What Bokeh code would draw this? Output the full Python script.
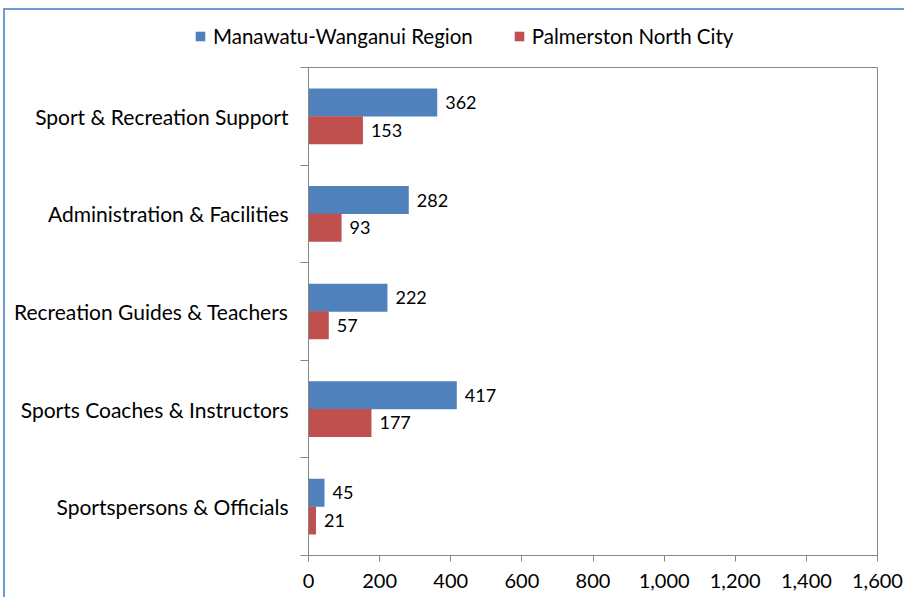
from bokeh.plotting import figure
from bokeh.layouts import column, row
from bokeh.models import FixedTicker, Range1d, NumeralTickFormatter, Legend, LegendItem
from bokeh.embed import file_html
from bokeh.resources import INLINE
from bokeh.core.properties import value

categories = [
    "Sport & Recreation Support",
    "Administration & Facilities",
    "Recreation Guides & Teachers",
    "Sports Coaches & Instructors",
    "Sportspersons & Officials",
]
region = [362, 282, 222, 417, 45]
city = [153, 93, 57, 177, 21]
series_names = ["Manawatu-Wanganui Region", "Palmerston North City"]
x_ticks = [0, 200, 400, 600, 800, 1000, 1200, 1400, 1600]

FONT = "Lato"
BLUE = "#4F81BD"
RED = "#C0504D"
GREY = "#868686"

n = len(categories)
centers = [n - i - 0.5 for i in range(n)]
bar_h = 0.287
off = 0.142
y_region = [c + off for c in centers]
y_city = [c - off for c in centers]

# ---- legend strip (its own small figure; series drawn out of view, only the legend shows) ----
lg = figure(width=899, height=50, x_range=Range1d(-100, -50), y_range=Range1d(-10, -9),
            x_axis_type=None, y_axis_type=None, min_border=0,
            output_backend="svg", toolbar_location=None)
lg.outline_line_color = None
lg.xgrid.visible = False
lg.ygrid.visible = False
lr1 = lg.hbar(y=y_region, left=0, right=region, height=bar_h, fill_color=BLUE, line_color=None)
lr2 = lg.hbar(y=y_city, left=0, right=city, height=bar_h, fill_color=RED, line_color=None)
legend = Legend(items=[LegendItem(label=series_names[0], renderers=[lr1]),
                       LegendItem(label=series_names[1], renderers=[lr2])],
                orientation="horizontal", location=(189, 12),
                glyph_width=12, glyph_height=12, label_standoff=7, spacing=40,
                padding=0, margin=0, border_line_color=None, background_fill_alpha=0,
                label_text_font=FONT, label_text_font_size="20.5px", label_text_color="black")
lg.add_layout(legend)

# ---- main chart ----
p = figure(width=899, height=537,
           min_border_left=303, min_border_right=27, min_border_top=7, min_border_bottom=42,
           x_range=Range1d(0, 1600), y_range=Range1d(0, n),
           output_backend="svg", toolbar_location=None)

p.hbar(y=y_region, left=0, right=region, height=bar_h, fill_color=BLUE, line_color=None)
p.hbar(y=y_city, left=0, right=city, height=bar_h, fill_color=RED, line_color=None)

p.text(x=region, y=y_region, text=[str(v) for v in region], x_offset=8,
       text_baseline="middle", text_font=value(FONT), text_font_size="18px", text_color="black")
p.text(x=city, y=y_city, text=[str(v) for v in city], x_offset=8,
       text_baseline="middle", text_font=value(FONT), text_font_size="18px", text_color="black")

p.xgrid.visible = False
p.ygrid.visible = False
p.outline_line_color = GREY

xa = p.xaxis[0]
xa.ticker = FixedTicker(ticks=x_ticks)
xa.formatter = NumeralTickFormatter(format="0,0")
xa.axis_line_color = GREY
xa.major_tick_line_color = GREY
xa.major_tick_out = 6
xa.major_tick_in = 0
xa.minor_tick_line_color = None
xa.major_label_standoff = 12
xa.major_label_text_font = FONT
xa.major_label_text_font_size = "20px"
xa.major_label_text_color = "black"

ya = p.yaxis[0]
ya.ticker = FixedTicker(ticks=centers, minor_ticks=list(range(n + 1)))
ya.major_label_overrides = {c: cat for c, cat in zip(centers, categories)}
ya.axis_line_color = GREY
ya.major_tick_line_color = None
ya.minor_tick_line_color = GREY
ya.minor_tick_out = 8
ya.minor_tick_in = 0
ya.major_label_standoff = 12
ya.major_label_text_font = FONT
ya.major_label_text_font_size = "21px"
ya.major_label_text_color = "black"

layout = column(row(lg, spacing=0), p, spacing=0)
layout.styles = {"border-left": "2px solid #6F9BD3", "border-top": "2px solid #6F9BD3",
                 "margin-left": "3px", "margin-top": "8px"}

open("out.html", "w").write(file_html(layout, INLINE))
